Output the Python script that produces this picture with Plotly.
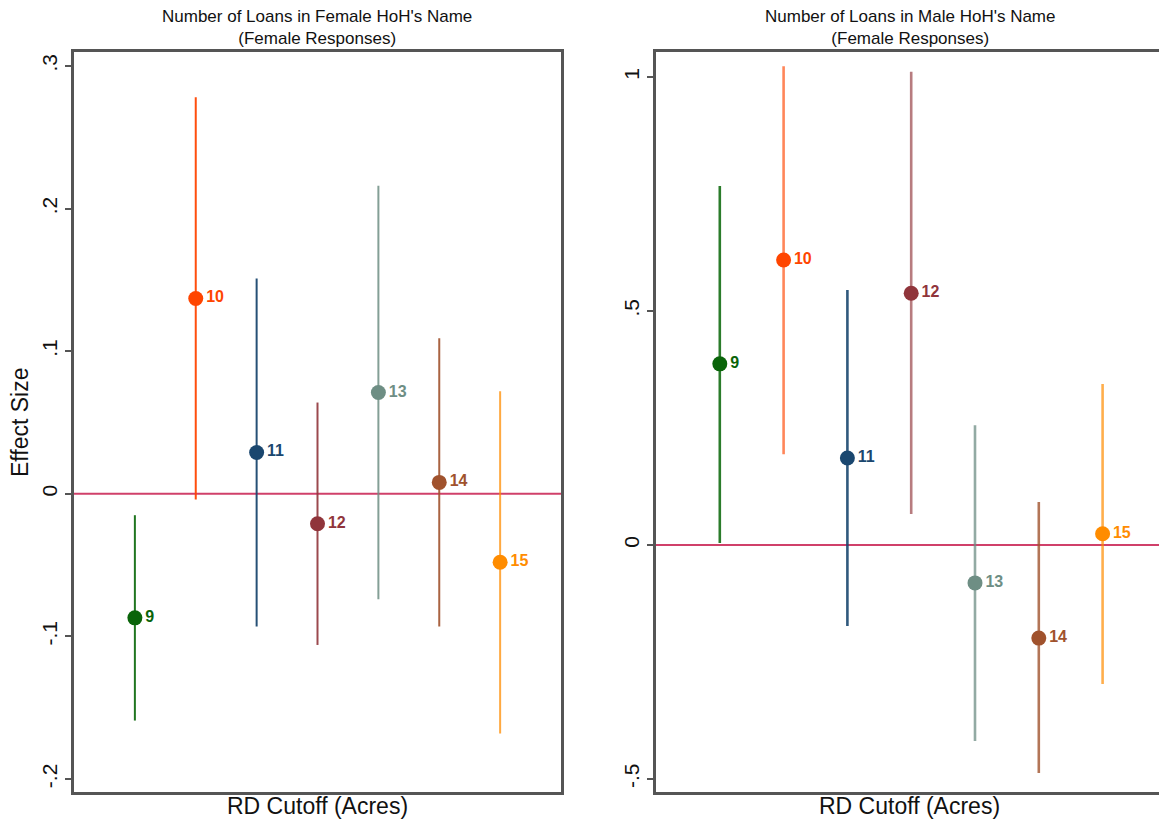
import plotly.graph_objects as go

# RD cutoffs (acres) and estimates with confidence bounds
cutoffs = [9, 10, 11, 12, 13, 14, 15]
cutoff_labels = ["9", "10", "11", "12", "13", "14", "15"]

female_est = [-0.087, 0.137, 0.029, -0.021, 0.071, 0.008, -0.048]
female_lo = [-0.159, -0.004, -0.093, -0.106, -0.074, -0.093, -0.168]
female_hi = [-0.015, 0.278, 0.151, 0.064, 0.216, 0.109, 0.072]

male_est = [0.387, 0.609, 0.186, 0.538, -0.081, -0.199, 0.024]
male_lo = [0.004, 0.194, -0.173, 0.066, -0.419, -0.487, -0.297]
male_hi = [0.767, 1.023, 0.545, 1.011, 0.256, 0.092, 0.344]

left_ticks = [0.3, 0.2, 0.1, 0, -0.1, -0.2]
left_tick_text = [".3", ".2", ".1", "0", "-.1", "-.2"]
right_ticks = [1, 0.5, 0, -0.5]
right_tick_text = ["1", ".5", "0", "-.5"]

colors = ["#0a640a", "#ff4500", "#1a476f", "#90353b", "#6e8e84", "#a0522d", "#ff8c00"]
line_colors_left = ["rgba(20,110,20,0.95)", "rgba(255,69,0,0.95)", "rgba(26,71,111,0.95)",
                    "rgba(144,53,59,0.9)", "rgba(110,142,132,0.85)", "rgba(160,82,45,0.9)",
                    "rgba(255,140,0,0.75)"]
line_colors_right = ["rgba(20,110,20,0.9)", "rgba(255,69,0,0.65)", "rgba(26,71,111,0.9)",
                     "rgba(144,53,59,0.65)", "rgba(110,142,132,0.75)", "rgba(160,82,45,0.8)",
                     "rgba(255,140,0,0.7)"]

FONT = "Liberation Sans, Arial, sans-serif"
W, H = 1159, 825

fig = go.Figure()


def add_panel(est, lo, hi, xa, ya, line_cols, thick):
    # reference line at zero
    fig.add_trace(go.Scatter(x=[7, 17], y=[0, 0], mode="lines",
                             line=dict(color="#d0406a", width=2),
                             xaxis=xa, yaxis=ya, showlegend=False, hoverinfo="skip"))
    for i, c in enumerate(cutoffs):
        fig.add_trace(go.Scatter(
            x=[c], y=[est[i]], mode="markers+text",
            text=["<b>" + cutoff_labels[i] + "</b>"], textposition="middle right",
            textfont=dict(family=FONT, size=16, color=colors[i]),
            marker=dict(color=colors[i], size=15),
            error_y=dict(type="data", symmetric=False,
                         array=[hi[i] - est[i]], arrayminus=[est[i] - lo[i]],
                         color=line_cols[i], thickness=thick, width=0),
            xaxis=xa, yaxis=ya, showlegend=False))


add_panel(female_est, female_lo, female_hi, "x", "y", line_colors_left, 2)
add_panel(male_est, male_lo, male_hi, "x2", "y2", line_colors_right, 2.6)

y_dom = [33 / H, 1 - 52 / H]
left_dom = [74 / W, 561 / W]
right_dom = [656 / W, 1.0]

axis_common = dict(showgrid=False, zeroline=False, showline=True,
                   linecolor="#555555", linewidth=2.5)
ytick_common = dict(ticks="outside", ticklen=6, tickwidth=1.5, tickcolor="#555555",
                    tickangle=-90, tickfont=dict(family=FONT, size=21, color="#111111"))

fig.update_layout(
    width=W, height=H,
    margin=dict(l=0, r=0, t=0, b=0),
    paper_bgcolor="white", plot_bgcolor="white",
    xaxis=dict(domain=left_dom, range=[8, 16], showticklabels=False, ticks="",
               mirror=True, anchor="y", **axis_common),
    yaxis=dict(domain=y_dom, range=[-0.2091, 0.3098], tickvals=left_ticks,
               ticktext=left_tick_text, mirror=True, anchor="x",
               **axis_common, **ytick_common),
    xaxis2=dict(domain=right_dom, range=[8, 8 + (W - 656) / 63.8], showticklabels=False,
                ticks="", mirror=True, anchor="y2", **axis_common),
    yaxis2=dict(domain=y_dom, range=[-0.5278, 1.0534], tickvals=right_ticks,
                ticktext=right_tick_text, anchor="x2",
                **axis_common, **ytick_common),
)

annos = [
    dict(text="Number of Loans in Female HoH's Name<br>(Female Responses)",
         x=317 / W, y=1 - 28 / H, size=17),
    dict(text="Number of Loans in Male HoH's Name<br>(Female Responses)",
         x=910 / W, y=1 - 28 / H, size=17),
    dict(text="RD Cutoff (Acres)", x=317 / W, y=1 - 806 / H, size=23),
    dict(text="RD Cutoff (Acres)", x=909 / W, y=1 - 806 / H, size=23),
]
for a in annos:
    fig.add_annotation(text=a["text"], x=a["x"], y=a["y"], xref="paper", yref="paper",
                       xanchor="center", yanchor="middle", showarrow=False,
                       font=dict(family=FONT, size=a["size"], color="#111111"))
fig.add_annotation(text="Effect Size", x=20 / W, y=1 - 422 / H, xref="paper", yref="paper",
                   xanchor="center", yanchor="middle", showarrow=False, textangle=-90,
                   font=dict(family=FONT, size=23, color="#111111"))

fig.write_html("out.html")
